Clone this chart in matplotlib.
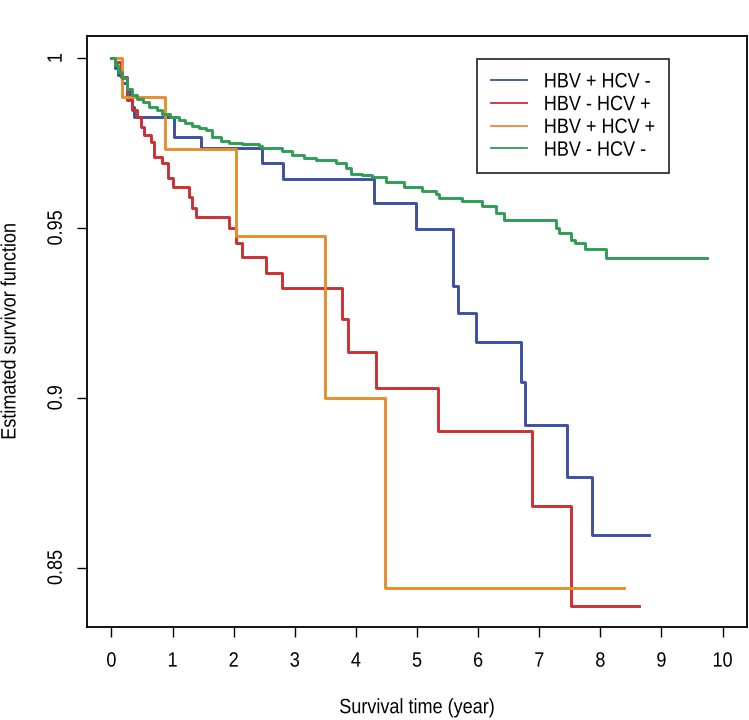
import matplotlib
matplotlib.use("Agg")
import matplotlib.pyplot as plt
from matplotlib.lines import Line2D
from matplotlib.patheffects import AbstractPathEffect
from matplotlib.transforms import Affine2D

# ---------------- data ----------------
labels = ["HBV + HCV -", "HBV - HCV +", "HBV + HCV +", "HBV - HCV -"]
colors = ["#3D4FA3", "#C93132", "#E58E2E", "#2E9E55"]

blue_t = [0, 0.05, 0.10, 0.18, 0.25, 0.30, 0.34, 0.37, 1.03, 1.47, 2.47, 2.80,
          4.30, 4.98, 5.59, 5.67, 5.96, 6.70, 6.76, 7.45, 7.87]
blue_s = [1.0, 0.997, 0.995, 0.9926, 0.991, 0.988, 0.9855, 0.9826, 0.9767, 0.9735,
          0.969, 0.9643, 0.9572, 0.9496, 0.933, 0.925, 0.9163, 0.9047, 0.892,
          0.8767, 0.8596]
blue_end = 8.79

red_t = [0, 0.05, 0.16, 0.25, 0.33, 0.42, 0.49, 0.54, 0.65, 0.70, 0.83, 0.92,
         1.00, 1.27, 1.31, 1.39, 1.93, 2.04, 2.14, 2.53, 2.79, 3.77, 3.87, 4.33,
         5.34, 6.88, 7.52]
red_s = [1.0, 0.9988, 0.9944, 0.9876, 0.9847, 0.9826, 0.9797, 0.9773, 0.9752,
         0.9708, 0.969, 0.9646, 0.962, 0.959, 0.956, 0.9531, 0.950, 0.9457,
         0.9413, 0.9366, 0.9322, 0.9233, 0.9136, 0.903, 0.8903, 0.868, 0.8387]
red_end = 8.63

orange_t = [0, 0.18, 0.88, 2.04, 3.50, 4.48]
orange_s = [1.0, 0.9885, 0.9732, 0.9475, 0.900, 0.844]
orange_end = 8.38

green_t = [0, 0.05, 0.10, 0.18, 0.26, 0.34, 0.42, 0.51, 0.62, 0.74, 0.83, 0.95,
           1.11, 1.21, 1.32, 1.44, 1.55, 1.65, 1.80, 1.93, 2.14, 2.42, 2.47,
           2.79, 2.96, 3.15, 3.35, 3.68, 3.84, 3.92, 4.10, 4.26, 4.49, 4.79,
           5.08, 5.31, 5.36, 5.74, 6.06, 6.29, 6.42, 7.27, 7.32, 7.52, 7.58,
           7.75, 8.09]
green_s = [1.0, 0.998, 0.996, 0.994, 0.991, 0.989, 0.988, 0.987, 0.9855, 0.9847,
           0.9835, 0.9826, 0.9817, 0.981, 0.980, 0.9794, 0.9788, 0.9767, 0.9757,
           0.975, 0.9746, 0.974, 0.9735, 0.9726, 0.9714, 0.9707, 0.970, 0.969,
           0.9676, 0.966, 0.9655, 0.965, 0.9634, 0.962, 0.961, 0.960, 0.9587,
           0.958, 0.9565, 0.9545, 0.9522, 0.950, 0.9484, 0.9465, 0.9457, 0.9437,
           0.941]
green_end = 9.75

x_ticks = list(range(0, 11))
y_ticks = [0.85, 0.90, 0.95, 1.00]
y_ticklabels = ["0.85", "0.9", "0.95", "1"]
x_label = "Survival time (year)"
y_label = "Estimated survivor function"


# ---------------- helpers ----------------
class Stretch(AbstractPathEffect):
    """Stretch glyphs vertically about their ink centre (condensed look)."""

    def __init__(self, sy=1.15):
        super().__init__()
        self.sy = sy

    def draw_path(self, renderer, gc, tpath, affine, rgbFace=None):
        ext = tpath.get_extents()
        cy = 0.5 * (ext.y0 + ext.y1)
        tr = Affine2D().translate(0, -cy).scale(1, self.sy).translate(0, cy) + affine
        renderer.draw_path(gc, tpath, tr, rgbFace)


plt.rcParams["font.family"] = ["Liberation Sans", "DejaVu Sans"]
FS = 13
PE = [Stretch(1.15)]

W, H = 749, 720
fig = plt.figure(figsize=(W / 100, H / 100), dpi=100)
L, R, T, B = 87, 747, 36, 627
ax = fig.add_axes([L / W, 1 - B / H, (R - L) / W, (B - T) / H])

series = [
    (blue_t, blue_s, blue_end),
    (red_t, red_s, red_end),
    (orange_t, orange_s, orange_end),
    (green_t, green_s, green_end),
]
for (t, s, end), c, lab in zip(series, colors, labels):
    ax.step(list(t) + [end], list(s) + [s[-1]], where="post",
            color=c, lw=2.1, label=lab)

ax.set_xlim(-0.4, 10.4)
ax.set_ylim(0.8325, 1.0065)
ax.set_xticks(x_ticks)
ax.set_xticklabels([str(v) for v in x_ticks])
ax.set_yticks(y_ticks)
ax.set_yticklabels(y_ticklabels, rotation=90, va="center")
ax.tick_params(axis="x", direction="out", length=7.5, width=1.0,
               labelsize=FS, colors="black", pad=11)
ax.tick_params(axis="y", direction="out", length=7.0, width=1.0,
               labelsize=FS, colors="black", pad=9)
for sp in ax.spines.values():
    sp.set_linewidth(1.3)
for lbl in ax.get_xticklabels() + ax.get_yticklabels():
    lbl.set_path_effects(PE)

ax.set_xlabel(x_label, fontsize=FS)
ax.xaxis.label.set_va("center")
ax.xaxis.set_label_coords(0.5, ((H - 708) - (H - B)) / (B - T))
ax.xaxis.label.set_path_effects(PE)
ax.set_ylabel(y_label, fontsize=FS)
ax.yaxis.label.set_va("center")
ax.yaxis.set_label_coords((10 - L) / (R - L), 0.5)
ax.yaxis.label.set_path_effects(PE)

leg_handles = [Line2D([], [], color=c, lw=1.3) for c in colors]
leg = ax.legend(leg_handles, labels, loc="upper left",
                bbox_to_anchor=(477 / W, 1 - 59 / H),
                bbox_transform=fig.transFigure,
                frameon=True, fancybox=False, edgecolor="black",
                fontsize=FS, handlelength=1.95, handletextpad=0.95,
                borderpad=0.8, labelspacing=0.32, borderaxespad=0)
leg.get_frame().set_linewidth(1.3)
for txt in leg.get_texts():
    txt.set_path_effects(PE)

fig.savefig("out.png", dpi=100, facecolor="white")
